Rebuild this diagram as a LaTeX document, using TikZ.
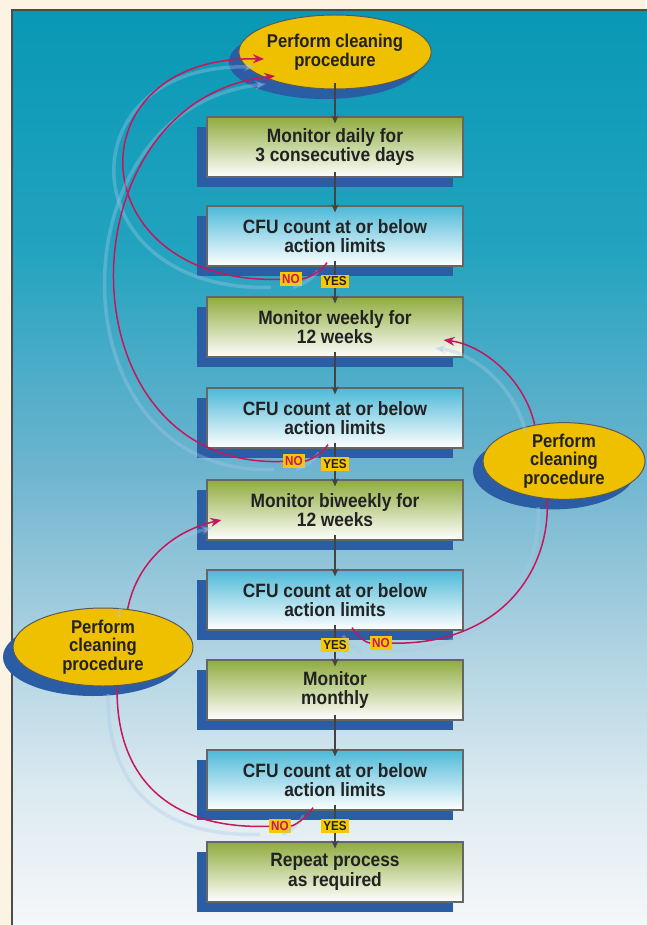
\documentclass[tikz,border=0pt]{standalone}
\usepackage{fontspec}
\setmainfont{Liberation Sans}[FakeStretch=0.9]
\usetikzlibrary{shapes.geometric,arrows.meta,shadows}

\definecolor{cream}{HTML}{FCF3E3}
\definecolor{paneltop}{HTML}{0898B5}
\definecolor{panelhigh}{HTML}{22A3BF}
\definecolor{panelmid}{HTML}{6DB4CF}
\definecolor{panelmidlow}{HTML}{B0D3E2}
\definecolor{panellow}{HTML}{DDEBF1}
\definecolor{panelbot}{HTML}{F5F7F9}
\definecolor{boxgreen}{HTML}{8FAC3E}
\definecolor{boxblue}{HTML}{4CB9D8}
\definecolor{shdblue}{HTML}{2B5DA5}
\definecolor{paleblue}{HTML}{A8C8E8}
\definecolor{lemon}{HTML}{EEC000}
\definecolor{tagyellow}{HTML}{F5C800}
\definecolor{loopred}{HTML}{C6175C}
\definecolor{ink}{HTML}{222222}

\pgfdeclareverticalshading{panelfade}{100bp}{color(0bp)=(panelbot); color(25bp)=(panelbot); color(32bp)=(panellow); color(40bp)=(panelmidlow); color(50bp)=(panelmid); color(62bp)=(panelhigh); color(75bp)=(paneltop); color(100bp)=(paneltop)}

\begin{document}
\begin{tikzpicture}[x=1pt,y=-1pt,
	basebox/.style={draw=gray!80!black,line width=1.2pt,minimum width=256pt,minimum height=60pt,inner sep=0pt,align=center,text=ink,font=\fontsize{19.3}{19.5}\selectfont\bfseries,general shadow={fill=shdblue,shadow xshift=-10pt,shadow yshift=-10pt}},
	monbox/.style={basebox,top color=boxgreen,bottom color=white},
	cfubox/.style={basebox,top color=boxblue,bottom color=white},
	oval/.style={ellipse,draw=gray!70!black,line width=1pt,fill=lemon,minimum width=180pt,minimum height=74pt,inner sep=0pt,align=center,text=ink,font=\fontsize{18.5}{18.5}\selectfont\bfseries,general shadow={fill=shdblue,shadow xshift=-10pt,shadow yshift=-10pt}},
	tag/.style={fill=tagyellow,inner sep=2pt,text=ink,font=\fontsize{13}{13}\selectfont\bfseries},
	flow/.style={draw=ink!85,line width=1.3pt,-{Stealth[length=8pt,width=7pt]},shorten <=-6pt,shorten >=-7pt},
	noloop/.style={draw=loopred,line width=1.5pt,preaction={draw=paleblue,line width=3.5pt,opacity=.35,transform canvas={shift={(-9pt,-8pt)}}}},
	loophead/.style={-{Stealth[length=11pt,width=9pt]}}]
	\useasboundingbox (0,0) rectangle (646,925);
	\fill[cream] (0,0) rectangle (646,925);
	\shade[shading=panelfade] (12,10) rectangle (650,925);
	\draw[gray!60!black,line width=1.5pt] (650,10) -- (12,10) -- (12,925);
	% main column
	\draw (335,52) node[oval] (clean1) {Perform cleaning\\procedure};
	\draw (335,147) node[monbox] (daily) {Monitor daily for\\3 consecutive days};
	\draw (335,236) node[cfubox] (cfu1) {CFU count at or below\\action limits};
	\draw (335,327) node[monbox] (weekly) {Monitor weekly for\\12 weeks};
	\draw (335,418) node[cfubox] (cfu2) {CFU count at or below\\action limits};
	\draw (335,510) node[monbox] (biweekly) {Monitor biweekly for\\12 weeks};
	\draw (335,600) node[cfubox] (cfu3) {CFU count at or below\\action limits};
	\draw (335,690) node[monbox] (monthly) {Monitor\\monthly};
	\draw (335,780) node[cfubox] (cfu4) {CFU count at or below\\action limits};
	\draw (335,872) node[monbox] (repeat) {Repeat process\\as required};
	\draw (564,461) node[oval,minimum width=162pt,minimum height=76pt] (clean2) {Perform\\cleaning\\procedure};
	\draw (103,647) node[oval,minimum height=78pt] (clean3) {Perform\\cleaning\\procedure};
	\draw[flow] (clean1) -- (daily);
	\draw[flow] (daily) -- (cfu1);
	\draw[flow] (cfu1) -- (weekly) node[tag,midway] (yes1) {YES};
	\draw[flow] (weekly) -- (cfu2);
	\draw[flow] (cfu2) -- (biweekly) node[tag,midway] (yes2) {YES};
	\draw[flow] (biweekly) -- (cfu3);
	\draw[flow] (cfu3) -- (monthly) node[tag,midway] (yes3) {YES};
	\draw[flow] (monthly) -- (cfu4);
	\draw[flow] (cfu4) -- (repeat) node[tag,midway] (yes4) {YES};
	% back loops
	\draw (291,279) node[tag,text=loopred] (no1) {NO};
	\draw (294,461) node[tag,text=loopred] (no2) {NO};
	\draw (381,643) node[tag,text=loopred] (no3) {NO};
	\draw (280,826) node[tag,text=loopred] (no4) {NO};
	\draw[noloop,loophead] ([xshift=-8pt,yshift=4pt]cfu1.south) .. controls +(-6,10) and +(14,0) .. (no1) .. controls +(-211,6) and +(-195,-4) .. ([xshift=-71pt,yshift=-7pt]clean1.center);
	\draw[noloop,loophead] ([xshift=-7pt,yshift=4pt]cfu2.south) .. controls +(-6,10) and +(14,0) .. (no2) .. controls +(-234,9) and +(-216,24) .. ([xshift=-60pt,yshift=-24pt]clean1.center);
	\draw[noloop] ([xshift=17pt,yshift=3pt]cfu3.south) .. controls +(6,10) and +(-14,0) .. (no3) .. controls +(119,2) and +(4,72) .. (clean2.246);
	\draw[noloop,loophead] (clean2.129) .. controls +(-10,-45) and +(40,5) .. ([xshift=-20pt,yshift=-13pt]weekly.east);
	\draw[noloop] ([xshift=-22pt,yshift=3pt]cfu4.south) .. controls +(-6,10) and +(14,0) .. (no4) .. controls +(-130,4) and +(-2,72) .. (clean3.290);
	\draw[noloop,loophead] (clean3.57) .. controls +(10,-50) and +(-45,10) .. ([xshift=15pt,yshift=-10pt]biweekly.west);
\end{tikzpicture}
\end{document}
